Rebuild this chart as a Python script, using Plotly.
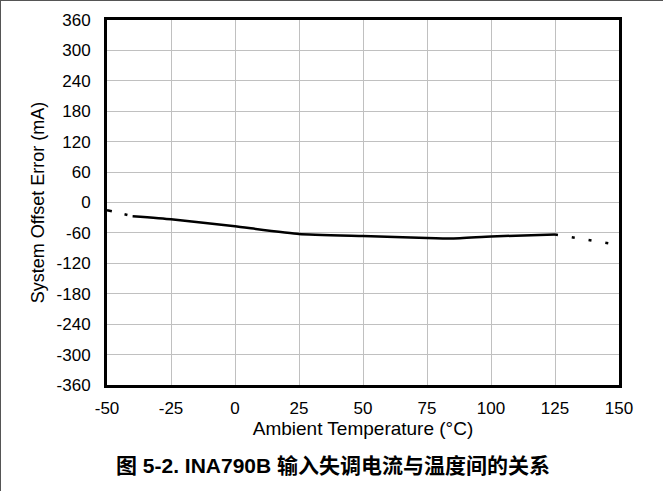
import plotly.graph_objects as go

# Data
temp_solid = [-40, -25, 0, 25, 50, 75, 85, 100, 125]
err_solid = [-27, -33, -47, -62, -66, -70, -71, -67, -63]
temp_low = [-50, -40]
err_low = [-15, -27]
temp_high = [125, 150]
err_high = [-63, -84]

x_ticks = [-50, -25, 0, 25, 50, 75, 100, 125, 150]
y_ticks = [360, 300, 240, 180, 120, 60, 0, -60, -120, -180, -240, -300, -360]

W, H = 663, 491
L, R, T, B = 107, 44, 20, 106
pw, ph = W - L - R, H - T - B

fig = go.Figure()
fig.add_trace(go.Scatter(x=temp_low, y=err_low, mode="lines",
                         line=dict(color="black", width=2.5, dash="5px,13px,3px,6px"),
                         showlegend=False, hoverinfo="skip"))
fig.add_trace(go.Scatter(x=temp_solid, y=err_solid, mode="lines",
                         line=dict(color="black", width=2.5, shape="spline", smoothing=0.4),
                         showlegend=False))
fig.add_trace(go.Scatter(x=temp_high, y=err_high, mode="lines",
                         line=dict(color="black", width=2.5, dash="3px,14px"),
                         showlegend=False, hoverinfo="skip"))

font = "Liberation Sans, Arial, Noto Sans CJK SC, sans-serif"
fig.update_layout(
    width=W, height=H,
    margin=dict(l=L, r=R, t=T, b=B),
    paper_bgcolor="white", plot_bgcolor="white",
    font=dict(family=font, size=17, color="black"),
    showlegend=False,
    title=dict(text="<b>图 5-2. INA790B 输入失调电流与温度间的关系</b>",
               x=333 / W, xref="container", xanchor="center",
               y=1 - 466 / H, yref="container", yanchor="middle",
               font=dict(family=font, size=21, color="black")),
    xaxis=dict(range=[-50, 150], tickvals=x_ticks, ticktext=[str(v) for v in x_ticks],
               showgrid=True, gridcolor="#C0C0C0", gridwidth=1, zeroline=False,
               showline=True, linecolor="black", linewidth=3, mirror=True,
               ticks="", ticklabelstandoff=6, tickfont=dict(size=17),
               title=dict(text="Ambient Temperature (°C)", standoff=4, font=dict(size=19))),
    yaxis=dict(range=[-360, 360], tickvals=y_ticks, ticktext=[str(v) for v in y_ticks],
               showgrid=True, gridcolor="#C0C0C0", gridwidth=1, zeroline=False,
               showline=True, linecolor="black", linewidth=3, mirror=True,
               ticks="", ticklabelstandoff=10, tickfont=dict(size=17),
               title=dict(text="System Offset Error (mA)", standoff=8, font=dict(size=18))),
)

# figure border (top and left thin gray lines)
fig.add_shape(type="line", xref="paper", yref="paper",
              x0=-L / pw, x1=(W - L) / pw, y0=1 + (T - 0.5) / ph, y1=1 + (T - 0.5) / ph,
              line=dict(color="#555555", width=1))
fig.add_shape(type="line", xref="paper", yref="paper",
              x0=(-L + 0.5) / pw, x1=(-L + 0.5) / pw, y0=-B / ph, y1=1 + T / ph,
              line=dict(color="#555555", width=1))

fig.write_html("out.html", config={"displayModeBar": False},
               post_script="document.body.style.margin='0';")
